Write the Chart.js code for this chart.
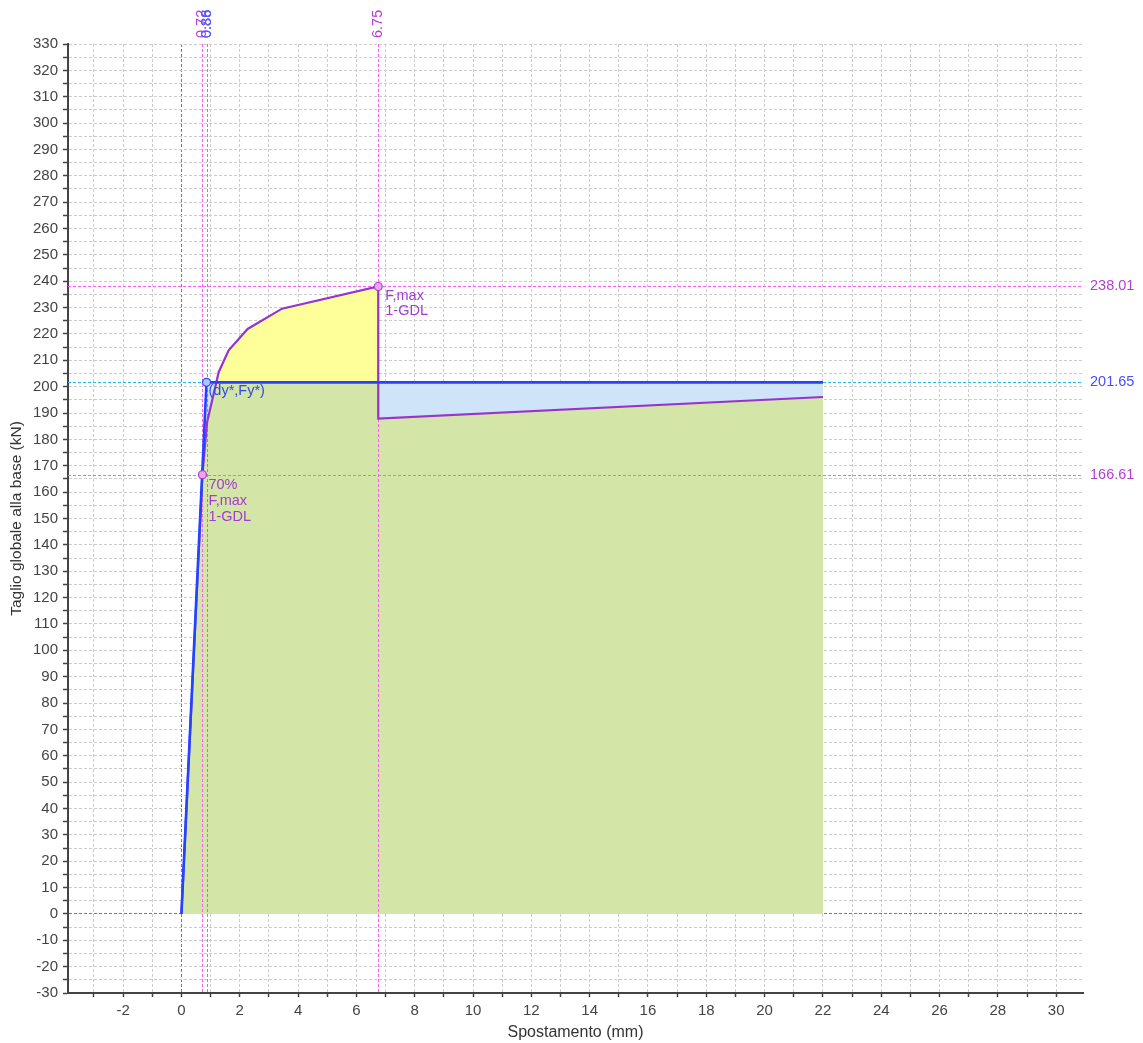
<!DOCTYPE html>
<html><head><meta charset="utf-8">
<script src="https://cdn.jsdelivr.net/npm/chart.js@4"></script>
<style>html,body{margin:0;padding:0;background:#fff}</style>
</head><body>
<canvas id="c" width="1143" height="1043"></canvas>
<script>
// ---- data ----
const capacityX = [0, 0.72, 0.88, 1.28, 1.62, 2.27, 3.45, 6.75, 6.75, 22];
const capacityY = [0, 166.61, 186.5, 205.6, 213.8, 221.9, 229.6, 238.01, 187.9, 196.1];
const bilinearX = [0, 0.86, 22];
const bilinearY = [0, 201.65, 201.65];
const fmaxPoint = {x: 6.75, y: 238.01};
const f70Point = {x: 0.72, y: 166.61};
const yieldPoint = {x: 0.86, y: 201.65};
const hRefValues = [238.01, 201.65, 166.61];
const hRefLabels = ['238.01', '201.65', '166.61'];
const vRefValues = [0.72, 0.86, 6.75];
const vTopLabels = [[0.72, '0.72'], [0.86, '0.86'], [0.88, '0.88'], [6.75, '6.75']];
const xTickLabelsEvery = 2;
const yTickLabelsEvery = 10;

const PURPLE = '#9a32cd', BLUE = '#2244ff', MAG = '#ff5cff', CYAN = '#22bbee';
const GREEN = '#d3e6a8', YELLOW = '#ffff99', LIGHTBLUE = '#cfe4f8';
const hRefColors = [MAG, CYAN, MAG];
const hRefTextColors = ['#b23ed2', '#4a4cff', '#b23ed2'];
const vRefColors = [MAG, CYAN, MAG];
const vTopColors = ['#b23ed2', '#4a4cff', '#5a5cff', '#b23ed2'];
const FONT = '"Liberation Sans", Arial, sans-serif';

const toPts = (xs, ys) => xs.map((x, i) => ({x, y: ys[i]}));
const near = (v, m) => Math.abs(v / m - Math.round(v / m)) < 1e-6;

function line(ctx, x1, y1, x2, y2) { ctx.beginPath(); ctx.moveTo(x1, y1); ctx.lineTo(x2, y2); ctx.stroke(); }

const refPlugin = {
  id: 'refs',
  afterDatasetDraw(chart, args) {
    if (args.index !== 2) return;
    const {ctx, chartArea: a, scales: {x, y}} = chart;
    ctx.save();
    ctx.lineWidth = 1;
    ctx.setLineDash([3, 2]);
    hRefValues.forEach((v, i) => {
      const py = Math.round(y.getPixelForValue(v)) + 0.5;
      ctx.strokeStyle = hRefColors[i];
      line(ctx, a.left, py, a.right, py);
    });
    vRefValues.forEach((v, i) => {
      const px = Math.round(x.getPixelForValue(v)) + 0.5;
      ctx.strokeStyle = vRefColors[i];
      line(ctx, px, a.top, px, a.bottom);
    });
    ctx.restore();
  },
  afterDraw(chart) {
    const {ctx, chartArea: a, scales: {x, y}} = chart;
    ctx.save();
    ctx.font = '14.5px ' + FONT;
    ctx.textBaseline = 'middle';
    ctx.textAlign = 'left';
    hRefValues.forEach((v, i) => {
      ctx.fillStyle = hRefTextColors[i];
      ctx.fillText(hRefLabels[i], a.right + 7, y.getPixelForValue(v));
    });
    vTopLabels.forEach(([v, t], i) => {
      ctx.save();
      ctx.translate(x.getPixelForValue(v), a.top - 6);
      ctx.rotate(-Math.PI / 2);
      ctx.fillStyle = vTopColors[i];
      ctx.fillText(t, 0, 0);
      ctx.restore();
    });
    // annotations
    ctx.fillStyle = '#a33dcc';
    let px = x.getPixelForValue(fmaxPoint.x), py = y.getPixelForValue(fmaxPoint.y);
    ctx.fillText('F,max', px + 7, py + 10);
    ctx.fillText('1-GDL', px + 7, py + 25);
    px = x.getPixelForValue(f70Point.x); py = y.getPixelForValue(f70Point.y);
    ctx.fillText('70%', px + 6, py + 10);
    ctx.fillText('F,max', px + 6, py + 26);
    ctx.fillText('1-GDL', px + 6, py + 42);
    ctx.fillStyle = '#2f4be6';
    px = x.getPixelForValue(yieldPoint.x); py = y.getPixelForValue(yieldPoint.y);
    ctx.fillText('(dy*,Fy*)', px + 2, py + 9);
    ctx.restore();
  }
};

const gridCol = ctx => (ctx.tick && Math.abs(ctx.tick.value) < 1e-9) ? '#7a7a7a' : '#cccccc';
const intTicks = (lo, hi, step) => { const t = []; for (let v = Math.ceil(lo / step) * step; v <= hi + 1e-9; v += step) t.push({value: v}); return t; };

new Chart(document.getElementById('c'), {
  type: 'line',
  data: {
    datasets: [
      {label: 'cap', data: toPts(capacityX, capacityY), borderColor: PURPLE, borderWidth: 2.2, pointRadius: 0, fill: false, order: 2, tension: 0},
      {label: 'bil', data: toPts(bilinearX, bilinearY), borderColor: BLUE, borderWidth: 2.6, pointRadius: 0, fill: false, order: 1, tension: 0},
      {label: 'diff', data: toPts(capacityX, capacityY), borderWidth: 0, borderColor: 'rgba(0,0,0,0)', pointRadius: 0,
        fill: {target: 1, above: YELLOW, below: LIGHTBLUE}, order: 5},
      {label: 'area', data: toPts(capacityX, capacityY), borderWidth: 0, borderColor: 'rgba(0,0,0,0)', pointRadius: 0,
        fill: {target: 'origin', above: GREEN, below: GREEN}, order: 10},
      {label: 'area2', data: toPts(bilinearX, bilinearY), borderWidth: 0, borderColor: 'rgba(0,0,0,0)', pointRadius: 0,
        fill: {target: 'origin', above: GREEN, below: GREEN}, order: 11},
      {label: 'mk1', data: [fmaxPoint, f70Point], showLine: false, pointRadius: 4, pointBackgroundColor: '#e9a6f3', pointBorderColor: '#b03ed0', pointBorderWidth: 1.2, order: 0},
      {label: 'mk2', data: [yieldPoint], showLine: false, pointRadius: 4, pointBackgroundColor: '#a9c6ff', pointBorderColor: '#2f4be6', pointBorderWidth: 1.2, order: 0}
    ]
  },
  options: {
    responsive: false,
    animation: false,
    devicePixelRatio: 1,
    layout: {padding: {left: 7, top: 44, right: 60, bottom: 1}},
    plugins: {legend: {display: false}, tooltip: {enabled: false}},
    elements: {line: {tension: 0}},
    scales: {
      x: {
        type: 'linear', min: -3.89, max: 30.92,
        afterBuildTicks: s => { s.ticks = intTicks(s.min, s.max, 1); },
        afterFit: s => { s.height = 49; },
        ticks: {autoSkip: false, maxRotation: 0, padding: 5, color: '#444', font: {size: 15, family: FONT},
          callback: v => near(v, xTickLabelsEvery) ? String(Math.round(v)) : ''},
        grid: {color: gridCol, tickColor: '#444', tickLength: 4, tickWidth: 1.5, tickBorderDash: [], lineWidth: 1},
        border: {display: true, color: '#444', width: 2, dash: [3, 2]},
        title: {display: true, text: 'Spostamento (mm)', color: '#333', font: {size: 16, family: FONT}, padding: 0}
      },
      y: {
        type: 'linear', min: -30, max: 330,
        afterBuildTicks: s => { s.ticks = intTicks(s.min, s.max, 5); },
        afterFit: s => { s.width = 61; },
        ticks: {autoSkip: false, padding: 5, color: '#444', font: {size: 15, family: FONT},
          callback: v => near(v, yTickLabelsEvery) ? String(Math.round(v)) : ''},
        grid: {color: gridCol, tickColor: '#444', tickLength: 5, tickWidth: 1.5, tickBorderDash: [], lineWidth: 1},
        border: {display: true, color: '#444', width: 2, dash: [3, 2]},
        title: {display: true, text: 'Taglio globale alla base (kN)', color: '#333', font: {size: 15.5, family: FONT}, padding: 0}
      }
    }
  },
  plugins: [refPlugin]
});
</script>
</body></html>
